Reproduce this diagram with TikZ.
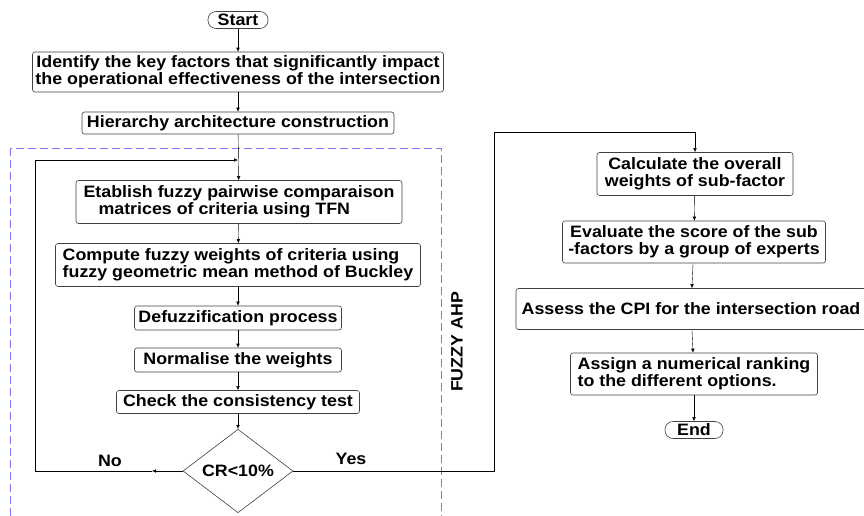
\documentclass[tikz,border=0pt]{standalone}
\usepackage{fontspec}
\setmainfont{Liberation Sans}[FakeStretch=1.08]
\usetikzlibrary{positioning,arrows.meta,shapes.geometric}

\begin{document}
\begin{tikzpicture}[x=1pt, y=-1pt, font=\fontsize{16.5}{17}\selectfont\bfseries,
  box/.style={draw=black!75, rounded corners=2.5pt, line width=0.6pt, align=center, inner sep=3pt},
  term/.style={draw=black!75, rounded corners=8pt, line width=0.6pt, inner sep=1pt, minimum height=17pt},
  >={Latex[length=4pt,width=3.5pt]}]
  \useasboundingbox (0,0) rectangle (864,516);
  % fuzzy AHP frame
  \draw[dashed, dash pattern=on 8pt off 4pt, color={rgb,255:red,120;green,120;blue,250}, line width=0.7pt]
    (10,148) rectangle (441,540);
  \node[rotate=90] (ahp) at (457,342) {FUZZY AHP};
  % left column
  \node[term, minimum width=60pt] (start) at (238,20) {Start};
  \node[box, minimum width=411pt, minimum height=40pt] (ident) at (238,72) {Identify the key factors that significantly impact\\the operational effectiveness of the intersection};
  \node[box, minimum width=312pt, minimum height=22pt] (hier) at (238,123) {Hierarchy architecture construction};
  \node[box, minimum width=326pt, minimum height=43pt, align=left] (etab) at (239,202) {Etablish fuzzy pairwise comparaison\\\hspace*{15pt}matrices of criteria using TFN};
  \node[box, minimum width=365pt, minimum height=43pt, align=left] (buck) at (238,265) {Compute fuzzy weights of criteria using\\fuzzy geometric mean method of Buckley};
  \node[box, minimum width=207pt, minimum height=24pt] (defuz) at (238,318) {Defuzzification process};
  \node[box, minimum width=207pt, minimum height=24pt] (norm) at (238,360) {Normalise the weights};
  \node[box, minimum width=243pt, minimum height=23pt] (cons) at (238,402) {Check the consistency test};
  \node[diamond, draw=black!75, line width=0.6pt, inner sep=0pt, minimum width=110pt, minimum height=62pt] (crit) at (238,471) {CR<10\%};
  \node (no) at (110,461) {No};
  \node (yes) at (351,459) {Yes};
  % right column
  \node[box, minimum width=196pt, minimum height=43pt] (overall) at (695,174) {Calculate the overall\\weights of sub-factor};
  \node[box, minimum width=263pt, minimum height=42pt] (score) at (694,242) {Evaluate the score of the sub\\-factors by a group of experts};
  \node[box, minimum width=350pt, minimum height=41pt] (cpi) at (691,309) {Assess the CPI for the intersection road};
  \node[box, minimum width=247pt, minimum height=42pt, align=left] (rank) at (694,374) {Assign a numerical ranking\\to the different options.};
  \node[term, minimum width=58pt] (end) at (694,430) {End};
  % connectors
  \coordinate (join) at (238,160);
  \coordinate (nomark) at (152,471);
  \coordinate (nocorner) at (35,471);
  \coordinate (yesup) at (494,132);
  \draw[->] (start) -- (ident);
  \draw[->] (ident) -- (hier);
  \draw[->] (hier) -- (etab);
  \draw[->] (etab) -- (buck);
  \draw[->] (buck) -- (defuz);
  \draw[->] (defuz) -- (norm);
  \draw[->] (norm) -- (cons);
  \draw[->] (cons) -- (crit);
  \draw[->] (crit.west) -- (nomark);
  \draw[->] (nomark) -- (nocorner) |- (join);
  \draw[->] (crit.east) -| (yesup) -| (overall.north);
  \draw[->] (overall) -- (score);
  \draw[->] (score) -- (cpi);
  \draw[->] (cpi) -- (rank);
  \draw[->] (rank) -- (end);
\end{tikzpicture}
\end{document}
